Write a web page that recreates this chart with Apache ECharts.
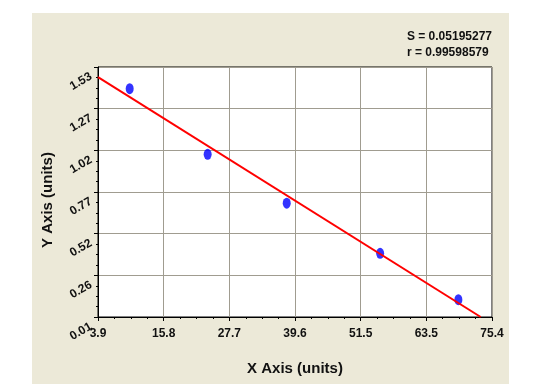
<!DOCTYPE html>
<html>
<head>
<meta charset="utf-8">
<script src="https://cdn.jsdelivr.net/npm/echarts@6/dist/echarts.min.js"></script>
<style>
html,body{margin:0;padding:0;background:#fff;}
#c{width:555px;height:384px;}
</style>
</head>
<body>
<div id="c"></div>
<script>
// Data
var pointX = [9.65, 23.8, 38.15, 55.1, 69.3];
var pointY = [1.398, 0.999, 0.702, 0.397, 0.115];
// Fitted line end points
var fitX = [3.9, 73.35];
var fitY = [1.469, 0.01];
// Tick labels
var xTickLabels = ['3.9', '15.8', '27.7', '39.6', '51.5', '63.5', '75.4'];
var yTickLabels = ['0.01', '0.26', '0.52', '0.77', '1.02', '1.27', '1.53'];
var statLines = ['S = 0.05195277', 'r = 0.99598579'];

var xMin = 3.9, xMax = 75.4, yMin = 0.01, yMax = 1.53;

var chart = echarts.init(document.getElementById('c'));
var font = 'Liberation Sans, Arial, sans-serif';

chart.setOption({
  animation: false,
  backgroundColor: '#ffffff',
  graphic: [
    { type: 'rect', z: -10, shape: { x: 32, y: 13, width: 477, height: 380 }, style: { fill: '#ECE9D8' } },
    { type: 'text', right: 63, top: 29, style: { text: statLines.join('\n'), font: 'bold 12px ' + font, fill: '#111', align: 'right', lineHeight: 16 } }
  ],
  grid: { left: 98, top: 67, right: 63, bottom: 67, show: true, backgroundColor: '#ffffff', borderColor: '#000', borderWidth: 1 },
  xAxis: {
    type: 'value', min: xMin, max: xMax, interval: (xMax - xMin) / 6,
    name: 'X Axis (units)', nameLocation: 'middle', nameGap: 44, nameMoveOverlap: false,
    nameTextStyle: { fontFamily: font, fontWeight: 'bold', fontSize: 15, color: '#111' },
    axisLine: { show: true, lineStyle: { color: '#000', width: 1 } },
    axisTick: { show: true, length: 4, lineStyle: { color: '#000' } },
    minorTick: { show: true, splitNumber: 4, length: 2, lineStyle: { color: '#000' } },
    splitLine: { show: true, lineStyle: { color: '#A09C90', width: 1 } },
    axisLabel: { margin: 11, fontFamily: font, fontWeight: 'bold', fontSize: 12, color: '#111',
      formatter: function (v, i) { return xTickLabels[i] !== undefined ? xTickLabels[i] : ''; } }
  },
  yAxis: {
    type: 'value', min: yMin, max: yMax, interval: (yMax - yMin) / 6,
    name: 'Y Axis (units)', nameLocation: 'middle', nameGap: 43, nameMoveOverlap: false,
    nameTextStyle: { fontFamily: font, fontWeight: 'bold', fontSize: 15, color: '#111', padding: [0, 16, 0, 0] },
    axisLine: { show: true, lineStyle: { color: '#000', width: 1 } },
    axisTick: { show: true, length: 4, lineStyle: { color: '#000' } },
    minorTick: { show: true, splitNumber: 4, length: 2, lineStyle: { color: '#000' } },
    splitLine: { show: true, lineStyle: { color: '#A09C90', width: 1 } },
    axisLabel: { rotate: 30, margin: 12, verticalAlign: 'top', lineHeight: 20, fontFamily: font, fontWeight: 'bold', fontSize: 12, color: '#111',
      formatter: function (v, i) { return yTickLabels[i] !== undefined ? yTickLabels[i] : ''; } }
  },
  series: [
    {
      type: 'scatter', symbol: 'circle', symbolSize: [8, 11], z: 2,
      itemStyle: { color: '#0000FF' },
      data: pointX.map(function (x, i) { return [x, pointY[i]]; })
    },
    {
      type: 'line', showSymbol: false, symbol: 'none', z: 3, clip: true,
      lineStyle: { color: '#FF0000', width: 2 },
      data: fitX.map(function (x, i) { return [x, fitY[i]]; })
    }
  ]
});
</script>
</body>
</html>
